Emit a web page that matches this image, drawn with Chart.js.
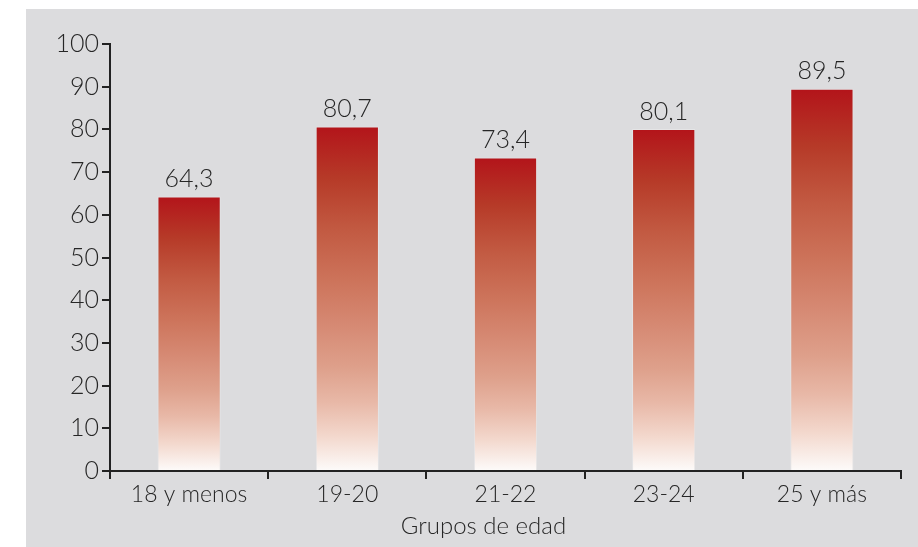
<!DOCTYPE html>
<html>
<head>
<meta charset="utf-8">
<script src="https://cdn.jsdelivr.net/npm/chart.js@4.4.0/dist/chart.umd.min.js"></script>
<style>
    html, body { margin: 0; padding: 0; background: #fff; }
    #wrap { position: absolute; left: 26px; top: 9px; width: 892px; height: 538px; background: #dcdcde; }
</style>
</head>
<body>
<div id="wrap"><canvas id="edadChart" width="892" height="538"></canvas></div>
<script>
var categories = ['18 y menos', '19-20', '21-22', '23-24', '25 y más'];
var values = [64.3, 80.7, 73.4, 80.1, 89.5];
var yTicks = [0, 10, 20, 30, 40, 50, 60, 70, 80, 90, 100];
var axisTitle = 'Grupos de edad';

var fontFamily = 'Lato, "Open Sans", sans-serif';
var textColor = '#262626';

// vertical gradient for each bar, dark red on top -> white at the base
function barGradient(context) {
    var chart = context.chart;
    var area = chart.chartArea;
    if (!area || context.type !== 'data') return '#c0392b';
    var yScale = chart.scales.y;
    var top = yScale.getPixelForValue(context.raw);
    var bottom = yScale.getPixelForValue(0);
    var g = chart.ctx.createLinearGradient(0, top, 0, bottom);
    g.addColorStop(0, '#b3141a');
    g.addColorStop(0.15, '#b63a28');
    g.addColorStop(0.3, '#c25a42');
    g.addColorStop(0.45, '#cd745b');
    g.addColorStop(0.58, '#d68a74');
    g.addColorStop(0.7, '#dea08b');
    g.addColorStop(0.8, '#e8b8a7');
    g.addColorStop(0.9, '#f3d8cd');
    g.addColorStop(1, '#fdfbfa');
    return g;
}

// value above each bar + axis title (which sits a bit left of centre in the original)
var valueLabels = {
    id: 'valueLabels',
    afterDatasetsDraw: function (chart) {
        var ctx = chart.ctx;
        var meta = chart.getDatasetMeta(0);
        ctx.save();
        ctx.font = '300 25px ' + fontFamily;
        ctx.fillStyle = textColor;
        ctx.textAlign = 'center';
        ctx.textBaseline = 'bottom';
        meta.data.forEach(function (bar, i) {
            ctx.fillText(values[i].toFixed(1).replace('.', ','), bar.x, bar.y - 5);
        });
        var area = chart.chartArea;
        ctx.font = '300 24px ' + fontFamily;
        ctx.textBaseline = 'middle';
        ctx.fillText(axisTitle, (area.left + area.right) / 2 - 22, area.bottom + 55);
        ctx.restore();
    }
};

var ctx = document.getElementById('edadChart');
var myChart = new Chart(ctx, {
    type: 'bar',
    data: {
        labels: categories,
        datasets: [{
            data: values,
            backgroundColor: barGradient,
            borderColor: 'rgba(255,255,255,0.25)',
            borderWidth: 1,
            categoryPercentage: 1,
            barPercentage: 0.4
        }]
    },
    options: {
        responsive: false,
        animation: false,
        layout: {
            padding: { top: 35, right: 17, bottom: 0, left: 0 }
        },
        plugins: {
            legend: { display: false },
            tooltip: { enabled: false }
        },
        scales: {
            y: {
                min: 0,
                max: 100,
                afterBuildTicks: function (scale) {
                    scale.ticks = yTicks.map(function (v) { return { value: v }; });
                },
                afterFit: function (scale) { scale.width = 84; },
                border: { color: '#222', width: 2 },
                grid: { drawOnChartArea: false, drawTicks: true, tickLength: 8, color: '#222', lineWidth: 2 },
                ticks: { color: textColor, padding: 3, font: { family: fontFamily, size: 25, weight: '300' } }
            },
            x: {
                afterFit: function (scale) { scale.height = 76; },
                border: { color: '#222', width: 2 },
                grid: { drawOnChartArea: false, drawTicks: true, tickLength: 8, color: '#222', lineWidth: 2, offset: true },
                ticks: { color: textColor, padding: 2, font: { family: fontFamily, size: 23, weight: '300' } }
            }
        }
    },
    plugins: [valueLabels]
});
</script>
</body>
</html>
